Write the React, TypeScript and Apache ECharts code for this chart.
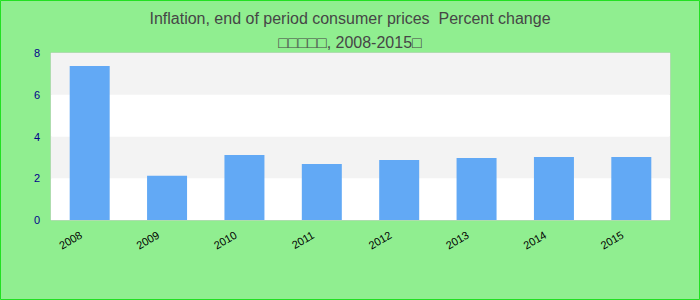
import React, { useEffect, useRef } from "react";
import * as echarts from "echarts";

const categories = ["2008", "2009", "2010", "2011", "2012", "2013", "2014", "2015"];
const values = [7.38, 2.12, 3.11, 2.68, 2.87, 2.97, 3.02, 3.02];
const titleLines = ["Inflation, end of period consumer prices  Percent change", "□□□□□, 2008-2015□"];

export default function App() {
  const ref = useRef<HTMLDivElement>(null);
  useEffect(() => {
    if (!ref.current) return;
    const chart = echarts.init(ref.current, undefined, { renderer: "svg" });
    chart.setOption({
      animation: false,
      backgroundColor: "#90ee90",
      title: {
        text: titleLines.join("\n"),
        left: "center",
        top: 1,
        textStyle: {
          fontFamily: "Liberation Sans, Arial, sans-serif",
          fontSize: 16,
          fontWeight: "normal",
          color: "#464646",
          lineHeight: 24,
        },
      },
      graphic: [
        {
          type: "rect",
          shape: { x: 0.5, y: 0.5, width: 699, height: 299 },
          style: { fill: "none", stroke: "#22e022", lineWidth: 1 },
          silent: true,
        },
      ],
      grid: {
        left: 51,
        right: 30,
        top: 53,
        bottom: 80,
        show: true,
        borderColor: "#cccccc",
        borderWidth: 1,
        backgroundColor: "#ffffff",
      },
      xAxis: {
        type: "category",
        data: categories,
        axisLine: { show: false },
        axisTick: { show: false },
        axisLabel: {
          rotate: 30,
          fontSize: 11,
          color: "#000000",
          fontFamily: "Liberation Sans, Arial, sans-serif",
          margin: 9,
          padding: [0, 10, 0, 0],
          interval: 0,
        },
      },
      yAxis: {
        type: "value",
        min: 0,
        max: 8,
        interval: 2,
        axisLine: { show: false },
        axisTick: { show: false },
        splitLine: { show: false },
        splitArea: { show: true, areaStyle: { color: ["#ffffff", "#f3f3f3"] } },
        axisLabel: {
          fontSize: 11,
          color: "#00008b",
          fontFamily: "Liberation Sans, Arial, sans-serif",
          margin: 11,
        },
      },
      series: [
        {
          type: "bar",
          data: values,
          barWidth: 40,
          itemStyle: { color: "#62a9f5" },
        },
      ],
    });
    return () => chart.dispose();
  }, []);
  return (
    <div
      ref={ref}
      style={{ position: "absolute", left: 0, top: 0, width: 700, height: 300 }}
    />
  );
}
